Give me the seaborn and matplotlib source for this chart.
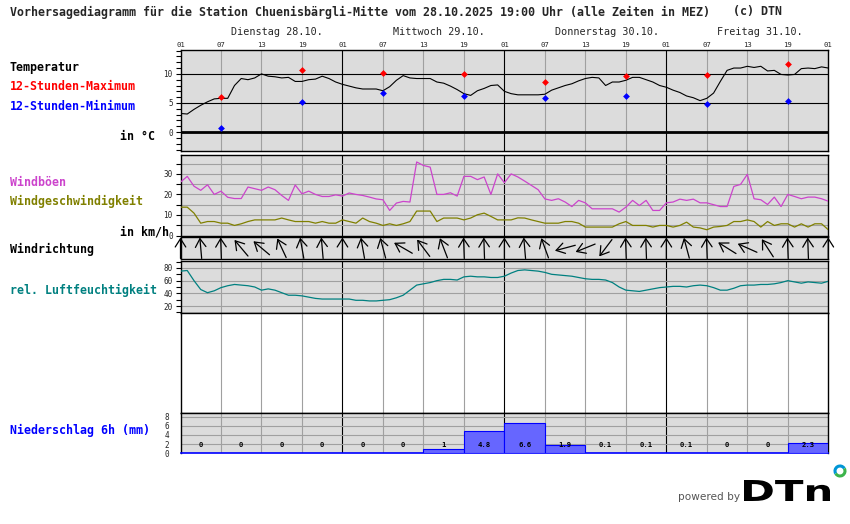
import numpy as np
import matplotlib
matplotlib.use("Agg")
import matplotlib.pyplot as plt
import matplotlib.transforms as mtransforms
import seaborn as sns
from matplotlib.textpath import TextPath
from matplotlib.patches import PathPatch, Arc
from matplotlib.font_manager import FontProperties

# ---------------- data ----------------
hours = list(range(97))  # hours after 28.10. 01:00 MEZ

temperature = [3.2, 3.1, 3.9, 4.6, 5.2, 5.7, 5.8, 5.8, 8.0, 9.2, 9.0, 9.3, 10.0, 9.6, 9.5, 9.3, 9.4, 8.7, 8.7, 9.0, 9.1, 9.6, 9.2, 8.6,
               8.2, 7.9, 7.6, 7.4, 7.4, 7.4, 7.1, 7.8, 8.9, 9.7, 9.3, 9.2, 9.2, 9.2, 8.6, 8.4, 7.9, 7.3, 6.6, 6.3, 7.1, 7.5, 8.0, 8.1,
               7.0, 6.6, 6.4, 6.4, 6.4, 6.4, 6.5, 7.2, 7.6, 8.0, 8.3, 8.8, 9.2, 9.4, 9.3, 8.0, 8.6, 8.6, 8.9, 9.4, 9.4, 9.0, 8.6, 8.0,
               7.7, 7.2, 6.8, 6.2, 5.9, 5.4, 5.8, 6.7, 8.7, 10.6, 11.0, 11.0, 11.3, 11.1, 11.3, 10.5, 10.6, 9.9, 9.8, 9.9, 10.9, 11.0, 10.9, 11.2, 11.0]

extreme_hours = [6, 18, 30, 42, 54, 66, 78, 90]
temp_max = [6.05, 10.6, 10.2, 10.0, 8.6, 9.65, 9.8, 11.7]
temp_min = [0.75, 5.1, 6.7, 6.2, 5.8, 6.2, 4.8, 5.3]

gusts = [26, 28.8, 24, 22, 24.7, 20, 21.6, 18.6, 18, 18, 23.6, 22.8, 22, 23.6, 22.3, 19.5, 17.1, 24.6, 20.3, 21.6, 20, 19, 19, 19.8,
         19.2, 20.7, 20, 19.5, 18.7, 17.8, 17.4, 12.2, 15.8, 16.6, 16.3, 35.8, 34.1, 33.3, 20, 20, 20.8, 19.2, 28.8, 28.8, 27.2, 28.5, 20, 30,
         25.7, 30, 28.5, 26.5, 24.4, 22.3, 17.8, 17.1, 17.9, 16.3, 14.1, 17.1, 15.9, 13, 13, 13, 13, 11.4, 13.8, 17.1, 14.6, 17.1, 12.2, 12.2,
         15.9, 16.3, 17.7, 17.1, 17.7, 15.9, 15.9, 15, 14.1, 14.1, 23.9, 24.9, 29.8, 17.9, 17.4, 15.1, 18.7, 14.1, 20, 19, 17.9, 18.7, 18.7, 17.9, 16.7]

wind_speed = [13.8, 13.8, 10.9, 6, 6.8, 6.8, 6, 6, 4.9, 5.7, 6.8, 7.6, 7.6, 7.6, 7.6, 8.5, 7.6, 6.8, 6.8, 6.8, 6, 6.8, 6, 6,
              7.6, 6.8, 6, 8.5, 6.8, 6, 4.9, 5.7, 4.9, 5.7, 6.8, 11.9, 11.9, 11.9, 6.8, 8.5, 8.5, 8.5, 7.6, 8.5, 10.1, 10.9, 9.3, 7.6,
              7.6, 7.6, 8.6, 8.5, 7.6, 6.8, 6, 6, 6, 6.8, 6.8, 6, 4.1, 4.1, 4.1, 4.1, 4.1, 5.7, 6.8, 4.9, 4.9, 4.9, 4.1, 4.9,
              4.9, 4.1, 4.9, 6.5, 4.1, 3.7, 2.8, 4.1, 4.4, 4.9, 6.8, 6.8, 7.6, 6.8, 4.1, 6.8, 4.9, 5.7, 5.7, 4.1, 5.7, 4.1, 5.7, 5.7, 2.8]

dir_hours = list(range(0, 97, 3))
wind_dir = [180, 175, 178, 140, 130, 155, 170, 175, 180,
            170, 165, 120, 143, 159, 178, 178, 180,
            175, 160, 75, 68, 37, 178, 178, 180,
            165, 178, 122, 114, 147, 178, 178, 180]

humidity = [75, 76, 60, 46, 41, 44, 49, 52, 54, 53, 52, 50, 45, 47, 45, 41, 37, 37, 36, 34, 32, 31, 31, 31,
            31, 31, 29, 29, 28, 28, 29, 30, 33, 37, 45, 53, 55, 57, 60, 62, 62, 61, 66, 67, 66, 66, 65, 65,
            67, 72, 76, 77, 76, 75, 73, 70, 69, 68, 67, 65, 63, 62, 62, 61, 57, 50, 45, 44, 43, 45, 47, 49,
            50, 51, 51, 50, 52, 53, 52, 49, 45, 45, 48, 52, 53, 53, 54, 54, 55, 57, 60, 58, 56, 58, 57, 56, 59]

precip_centers = [3, 9, 15, 21, 27, 33, 39, 45, 51, 57, 63, 69, 75, 81, 87, 93]
precip = [0, 0, 0, 0, 0, 0, 1, 4.8, 6.6, 1.9, 0.1, 0.1, 0.1, 0, 0, 2.3]
precip_labels = ["0", "0", "0", "0", "0", "0", "1", "4.8", "6.6", "1.9", "0.1", "0.1", "0.1", "0", "0", "2.3"]

hour_ticks = list(range(0, 97, 6))
hour_labels = ["01", "07", "13", "19"] * 4 + ["01"]
day_starts = [0, 24, 48, 72]
day_labels = ["Dienstag 28.10.", "Mittwoch 29.10.", "Donnerstag 30.10.", "Freitag 31.10."]

title = "Vorhersagediagramm für die Station Chuenisbärgli-Mitte vom 28.10.2025 19:00 Uhr (alle Zeiten in MEZ)"

# ---------------- style ----------------
sns.set_theme(style="white")
plt.rcParams["font.family"] = ["DejaVu Sans Mono", "DejaVu Sans"]
MONO = ["DejaVu Sans Mono", "DejaVu Sans"]

W, H = 850, 524
X0, X1 = 180.5, 828.3
PX_PER_H = (X1 - X0) / 96.0
BG = "#dcdcdc"
GRID = "#a0a0a0"

fig = plt.figure(figsize=(W / 100, H / 100), dpi=100)
fig.patch.set_facecolor("white")


def add_ax(top, bottom, face=BG):
    ax = fig.add_axes([X0 / W, 1 - bottom / H, (X1 - X0) / W, (bottom - top) / H])
    ax.set_facecolor(face)
    ax.set_xlim(0, 96)
    for s in ax.spines.values():
        s.set_color("black")
        s.set_linewidth(1.0)
    ax.set_xticks([])
    ax.tick_params(axis="y", which="both", direction="out", left=True, color="black",
                   labelsize=5.5, pad=2, width=0.8)
    ax.tick_params(axis="y", which="major", length=3.5)
    ax.tick_params(axis="y", which="minor", length=3.5)
    ax.set_xlabel("")
    ax.set_ylabel("")
    return ax


def vgrid(ax):
    for h in hour_ticks[1:-1]:
        c = "black" if h % 24 == 0 else GRID
        ax.axvline(h, color=c, lw=0.8, zorder=1)


# ---- temperature ----
ax_t = add_ax(50, 150.7)
ax_t.set_ylim(-3.2, 14.1)
vgrid(ax_t)
for v in (5, 10):
    ax_t.axhline(v, color="black", lw=0.8, zorder=1)
ax_t.axhline(0, color="black", lw=2.0, zorder=1)
sns.lineplot(x=hours, y=temperature, color="black", lw=0.8, ax=ax_t, zorder=3, legend=False)
sns.scatterplot(x=extreme_hours, y=temp_max, color="#ff0000", marker="D", s=12, linewidth=0, ax=ax_t, zorder=4, legend=False)
sns.scatterplot(x=extreme_hours, y=temp_min, color="#0000ff", marker="D", s=12, linewidth=0, ax=ax_t, zorder=4, legend=False)
ax_t.set_yticks([0, 5, 10])
ax_t.set_yticklabels(["0", "5", "10"])
ax_t.set_yticks(list(range(-3, 15)), minor=True)
ax_t.set_xticks(hour_ticks)
ax_t.set_xticklabels(hour_labels)
ax_t.xaxis.tick_top()
ax_t.tick_params(axis="x", length=0, labelsize=5.2, pad=1.5, top=True, bottom=False)
ax_t.set_xlabel("")
ax_t.set_ylabel("")

# ---- wind ----
ax_w = add_ax(155, 235.5)
ax_w.set_ylim(0, 39.2)
vgrid(ax_w)
for v in range(5, 40, 5):
    ax_w.axhline(v, color=GRID, lw=0.8, zorder=1)
sns.lineplot(x=hours, y=gusts, color="#cc44cc", lw=0.9, ax=ax_w, zorder=3, legend=False)
sns.lineplot(x=hours, y=wind_speed, color="#808000", lw=0.9, ax=ax_w, zorder=3, legend=False)
ax_w.set_xticks([])
ax_w.set_yticks([0, 10, 20, 30])
ax_w.set_yticklabels(["0", "10", "20", "30"])
ax_w.set_yticks(list(range(0, 40, 5)), minor=True)
ax_w.set_xlabel("")
ax_w.set_ylabel("")

# ---- wind direction ----
ax_d = add_ax(237, 259)
ax_d.set_ylim(0, 22)
ax_d.set_yticks([])
vgrid(ax_d)
half = 10.5
for h, d in zip(dir_hours, wind_dir):
    r = np.deg2rad(d)
    ux, uy = -np.sin(r), -np.cos(r)
    head = (h + half * ux / PX_PER_H, 11 + half * uy)
    tail = (h - half * ux / PX_PER_H, 11 - half * uy)
    ax_d.annotate("", xy=head, xytext=tail,
                  arrowprops=dict(arrowstyle="->,head_length=0.6,head_width=0.38", lw=0.9,
                                  color="black", shrinkA=0, shrinkB=0, mutation_scale=10),
                  annotation_clip=False, zorder=3)

# ---- humidity ----
ax_h = add_ax(261, 313.3)
ax_h.set_ylim(8.5, 91)
vgrid(ax_h)
for v in (20, 40, 60, 80):
    ax_h.axhline(v, color=GRID, lw=0.8, zorder=1)
sns.lineplot(x=hours, y=humidity, color="#008080", lw=0.9, ax=ax_h, zorder=3, legend=False)
ax_h.set_xticks([])
ax_h.set_yticks([20, 40, 60, 80])
ax_h.set_yticklabels(["20", "40", "60", "80"])
ax_h.set_yticks(list(range(10, 91, 10)), minor=True)
ax_h.set_xlabel("")
ax_h.set_ylabel("")

# ---- empty white region ----
ax_e = add_ax(313.3, 413.3, face="white")
ax_e.set_ylim(0, 1)
ax_e.set_yticks([])
vgrid(ax_e)

# ---- precipitation ----
ax_p = add_ax(413.3, 453.3)
ax_p.set_ylim(0, 8.7)
vgrid(ax_p)
for v in (2, 4, 6, 8):
    ax_p.axhline(v, color=GRID, lw=0.8, zorder=1)
ax_p.bar(precip_centers, precip, width=6, color="#6666ff", edgecolor="#0000ff", linewidth=0.8, zorder=3)
for c, lab in zip(precip_centers, precip_labels):
    ax_p.text(c, 1.8, lab, ha="center", va="center", fontsize=5.2, fontweight="bold",
              family=MONO, color="black", zorder=5)
ax_p.set_xlim(0, 96)
ax_p.set_xticks([])
ax_p.set_yticks([0, 2, 4, 6, 8])
ax_p.set_yticklabels(["0", "2", "4", "6", "8"])
ax_p.tick_params(axis="y", length=0, pad=8)
ax_p.spines["bottom"].set_color("#0000ff")
ax_p.spines["bottom"].set_linewidth(1.2)
ax_p.set_xlabel("")
ax_p.set_ylabel("")

# ---------------- text overlay (pixel coordinates) ----------------
ov = fig.add_axes([0, 0, 1, 1])
ov.set_xlim(0, W)
ov.set_ylim(H, 0)
ov.axis("off")
ov.patch.set_alpha(0)

ov.text(10, 12, title, fontsize=8.4, fontweight="bold", family=MONO, va="center", ha="left")
ov.text(733, 12, "(c) DTN", fontsize=8.4, fontweight="bold", family=MONO, va="center", ha="left")

for d0, lab in zip(day_starts, day_labels):
    ov.text(X0 + (d0 + 7.5) * PX_PER_H, 32, lab, fontsize=7.3, family=MONO, va="center", ha="left")

left_labels = [
    (10, 67, "Temperatur", "black"),
    (10, 87, "12-Stunden-Maximum", "#ff0000"),
    (10, 106.5, "12-Stunden-Minimum", "#0000ff"),
    (120, 137, "in °C", "black"),
    (10, 182, "Windböen", "#cc44cc"),
    (10, 201.5, "Windgeschwindigkeit", "#808000"),
    (120, 232, "in km/h", "black"),
    (10, 249.5, "Windrichtung", "black"),
    (10, 290, "rel. Luftfeuchtigkeit", "#008080"),
    (10, 430, "Niederschlag 6h (mm)", "#0000ff"),
]
for x, y, s, c in left_labels:
    ov.text(x, y, s, fontsize=8.4, fontweight="bold", family=MONO, color=c, va="center", ha="left")

# powered by DTN logo
ov.text(678, 497, "powered by", fontsize=7.6, family="DejaVu Sans", color="#555555", va="center", ha="left")
fp = FontProperties(family="DejaVu Sans", weight="bold")
tp = TextPath((0, 0), "DTn", size=10, prop=fp)
bb = tp.get_extents()
sx = 86.0 / bb.width
sy = 21.0 / bb.height
tr = mtransforms.Affine2D().translate(-bb.x0, -bb.y0).scale(sx, -sy).translate(744, 501) + ov.transData
ov.add_patch(PathPatch(tp, facecolor="black", edgecolor="none", transform=tr))
ov.add_patch(Arc((840, 471), 10, 10, theta1=150, theta2=330, color="#0096d6", lw=2.2))
ov.add_patch(Arc((840, 471), 10, 10, theta1=-30, theta2=150, color="#3cb44b", lw=2.2))

fig.savefig("out.png", dpi=100, facecolor="white")
